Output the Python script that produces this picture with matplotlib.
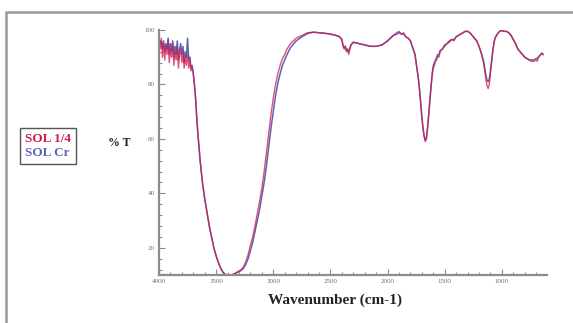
import matplotlib
matplotlib.use("Agg")
import matplotlib.pyplot as plt
from matplotlib.ticker import MultipleLocator, FixedLocator
from matplotlib.patches import Rectangle
from matplotlib.lines import Line2D

# ---- data ----
wavenumber = [4000, 3990, 3980, 3970, 3960, 3950, 3940, 3930, 3920, 3910,
              3900, 3890, 3880, 3870, 3860, 3850, 3840, 3830, 3820, 3810,
              3800, 3790, 3780, 3770, 3760, 3750, 3740, 3730, 3720, 3710,
              3700, 3690, 3680, 3670, 3660, 3650, 3640, 3630, 3620, 3610,
              3600, 3580, 3560, 3540, 3520, 3500, 3480, 3460, 3440, 3420,
              3400, 3380, 3360, 3340, 3320, 3300, 3280, 3260, 3240, 3220,
              3200, 3180, 3160, 3140, 3120, 3100, 3080, 3060, 3040, 3020,
              3000, 2980, 2960, 2940, 2920, 2900, 2880, 2850, 2800, 2750,
              2700, 2650, 2600, 2550, 2500, 2450, 2420, 2400, 2390, 2380,
              2370, 2360, 2350, 2340, 2330, 2320, 2300, 2250, 2200, 2150,
              2100, 2050, 2000, 1950, 1920, 1900, 1880, 1860, 1840, 1820,
              1800, 1780, 1760, 1750, 1740, 1730, 1720, 1710, 1700, 1690,
              1680, 1670, 1660, 1650, 1640, 1630, 1620, 1610, 1600, 1590,
              1580, 1570, 1560, 1550, 1540, 1520, 1500, 1480, 1460, 1440,
              1420, 1400, 1380, 1360, 1340, 1320, 1300, 1280, 1260, 1240,
              1220, 1200, 1180, 1160, 1150, 1140, 1130, 1120, 1110, 1100,
              1090, 1080, 1070, 1060, 1040, 1020, 1000, 980, 960, 940,
              920, 900, 880, 860, 840, 820, 800, 780, 760, 740,
              720, 700, 690, 680, 670, 660, 650, 640]

sol_14 = [97, 93, 97, 90, 95, 89, 94, 91, 96, 88,
          93, 90, 95, 87, 92, 89, 94, 86, 91, 93,
          88, 92, 86, 90, 87, 91, 86, 89, 85, 86,
          84, 80, 75, 68, 62, 57, 52, 48, 44, 41,
          38, 33, 28, 24, 20, 17, 14.5, 12.5, 11, 10.2,
          10, 10, 10.1, 10.5, 11, 11.5, 12, 13, 15, 17.5,
          21, 24, 28, 32.5, 37, 42, 48, 55, 62, 69,
          75, 80, 84, 87, 89.5, 91, 93, 95, 97, 98,
          99, 99.2, 99, 98.8, 98.5, 98, 97.5, 96.5, 94, 93,
          94, 92, 92.5, 91, 93, 94.5, 95.5, 95, 94.5, 94,
          94, 94.5, 96, 98, 99, 99.5, 98.5, 99, 97.5, 97,
          96, 93.5, 91, 88, 85, 82, 78, 73, 68, 64,
          61, 59, 60, 64, 69, 74, 79, 83, 86, 87,
          88.5, 89, 90.5, 90, 92, 93, 94, 95, 95.5, 96.5,
          96, 97.5, 98, 98.5, 99, 99.5, 99.5, 99, 98, 97,
          96, 94, 91.5, 88, 85, 82, 79.5, 78.5, 80, 84,
          88, 92, 95, 97, 98.5, 99.5, 99.8, 99.5, 99.5, 99,
          98, 96.5, 95, 93, 92, 91, 90, 89.5, 89, 88.5,
          88.5, 89, 88.5, 90, 90.5, 91, 91.5, 91]

sol_cr = [97, 95, 96, 93, 96, 92, 95, 93, 97, 91,
          95, 92, 96, 90, 94, 91, 96, 89, 93, 95,
          91, 94, 88, 92, 90, 97, 89, 90, 86, 87,
          84, 80, 75, 68, 62, 57, 52, 48, 44, 41,
          38, 33, 28, 24, 20, 17, 14.5, 12.5, 11, 10.2,
          10, 10, 10.1, 10.4, 10.8, 11.2, 11.7, 12.5, 14, 16,
          19, 22, 26, 30, 34, 39, 44, 50, 57, 64,
          70, 76, 80.5, 84, 87, 89, 91, 93.5, 96, 97.5,
          98.7, 99.2, 99, 98.8, 98.5, 98, 97.5, 96.5, 94.5, 93.5,
          94, 92.5, 93, 92, 93.5, 94.5, 95.5, 95, 94.5, 94,
          94, 94.5, 96, 98, 98.5, 99, 98.5, 98.5, 97.5, 97,
          96, 93.5, 91, 88, 85, 82, 78, 73, 68, 64,
          61, 59.5, 60.5, 64, 69, 74, 79, 84, 87, 88,
          89, 90, 91, 91, 92.5, 93, 94.5, 95, 96, 96.5,
          96.5, 97.5, 98, 98.5, 99, 99.5, 99.5, 99, 98, 97,
          96, 94, 91.5, 88.5, 86, 83.5, 81.5, 81, 82, 85,
          88.5, 92, 95, 97, 98.5, 99.5, 99.8, 99.5, 99.5, 99,
          98, 96.5, 95, 93, 92, 91, 90, 89.5, 89, 89,
          89, 89.5, 89.5, 90, 90.5, 91, 91.5, 91]

series_labels = ["SOL 1/4", "SOL Cr"]
x_ticks = [4000, 3500, 3000, 2500, 2000, 1500, 1000]
y_ticks = [20, 40, 60, 80, 100]

# ---- figure ----
fig = plt.figure(figsize=(5.73, 3.23), dpi=100)
fig.patch.set_facecolor("white")

# outer frame
fig.add_artist(Rectangle((6 / 573, -0.2), 1.2, 1.163, transform=fig.transFigure,
                         fill=False, edgecolor="#9a9a9a", linewidth=1.8))

ax = fig.add_axes([159 / 573, 1 - 275 / 323, (547 - 159) / 573, 245 / 323])
red = "#d4174a"
blue = "#5a66b4"
ax.plot(wavenumber, sol_cr, color=blue, lw=1.1)
ax.plot(wavenumber, sol_14, color=red, lw=1.0, alpha=0.75)

ax.set_xlim(4000, 605)
ax.set_ylim(10, 100)

for s in ["top", "right"]:
    ax.spines[s].set_visible(False)
for s in ["left", "bottom"]:
    ax.spines[s].set_color("#8c8c8c")
    ax.spines[s].set_linewidth(1.6)

ax.xaxis.set_major_locator(FixedLocator(x_ticks))
ax.xaxis.set_minor_locator(MultipleLocator(100))
ax.yaxis.set_major_locator(FixedLocator(y_ticks))
ax.yaxis.set_minor_locator(MultipleLocator(4))
ax.tick_params(which="both", direction="in", color="#8c8c8c", labelcolor="#707070",
               labelsize=5, width=0.8)
ax.tick_params(which="major", length=4, pad=3)
ax.tick_params(which="minor", length=2)
for lab in ax.get_xticklabels() + ax.get_yticklabels():
    lab.set_family("Liberation Serif")

fig.text(335 / 573, 1 - 300 / 323, "Wavenumber (cm-1)", ha="center", va="center",
         family="Liberation Serif", fontweight="bold", fontsize=11, color="#222222")
fig.text(119 / 573, 1 - 143 / 323, "% T", ha="center", va="center",
         family="Liberation Serif", fontweight="bold", fontsize=8.5, color="#222222")

handles = [Line2D([], [], color=red, lw=0), Line2D([], [], color=blue, lw=0)]
leg = fig.legend(handles, series_labels, loc="center",
                 bbox_to_anchor=(48 / 573, 1 - 146 / 323), bbox_transform=fig.transFigure,
                 handlelength=0, handletextpad=0, labelcolor=[red, blue],
                 prop={"family": "Liberation Serif", "weight": "bold", "size": 9.5},
                 fancybox=False, framealpha=1, edgecolor="#555555",
                 borderpad=0.35, labelspacing=0.1)
leg.get_frame().set_linewidth(1.0)

fig.savefig("out.png", dpi=100, facecolor="white")
